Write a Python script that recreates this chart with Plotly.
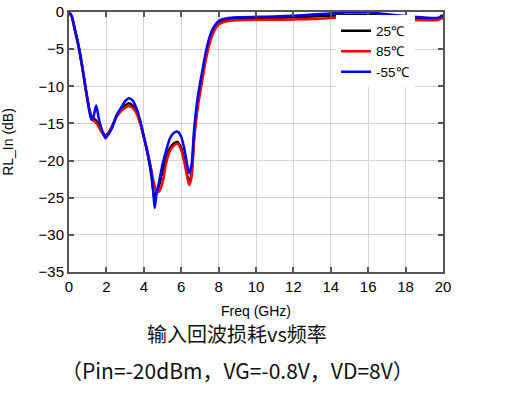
import plotly.graph_objects as go

freq = [0, 0.15, 0.3, 0.5, 0.7, 0.9, 1.1, 1.2, 1.3, 1.45, 1.6, 1.75, 1.95, 2.1, 2.3, 2.55, 2.8, 3.0, 3.2,
        3.4, 3.6, 3.8, 4.0, 4.2, 4.4, 4.5, 4.58, 4.68, 4.8, 5.0, 5.2, 5.4, 5.6, 5.8, 6.0, 6.2, 6.42, 6.55,
        6.7, 6.9, 7.1, 7.3, 7.5, 7.7, 8.0, 8.5, 9, 10, 11, 12, 13, 14, 15, 16, 17, 18, 19, 19.7, 20]

rl_25 = [0, -0.6, -2.2, -4.4, -7.2, -10.4, -13.2, -14.0, -14.3, -14.6, -15.3, -16.0, -16.6, -16.3, -15.4,
         -13.9, -13.0, -12.6, -12.3, -12.6, -13.4, -14.8, -16.8, -19.0, -22.0, -24.0, -25.3, -24.2, -23.5,
         -21.5, -19.6, -18.3, -17.7, -17.5, -18.3, -20.3, -23.0, -21.8, -16.5, -12.0, -9.0, -6.2, -4.0,
         -2.6, -1.5, -1.0, -0.9, -0.85, -0.8, -0.7, -0.6, -0.5, -0.4, -0.4, -0.55, -0.75, -0.9, -0.9, -0.6]

rl_85 = [0, -0.6, -2.3, -4.6, -7.4, -10.6, -13.4, -14.2, -14.6, -14.9, -15.5, -16.2, -16.8, -16.4, -15.5,
         -14.1, -13.3, -12.9, -12.7, -12.9, -13.6, -15.0, -16.8, -18.8, -21.2, -22.6, -23.4, -24.1, -24.2,
         -23.0, -20.3, -18.7, -18.0, -17.7, -18.6, -20.6, -23.3, -22.3, -17.0, -12.6, -9.6, -6.7, -4.4,
         -2.9, -1.7, -1.2, -1.1, -1.05, -1.05, -1.0, -0.95, -0.8, -0.7, -0.65, -0.8, -1.0, -1.1, -1.1, -0.8]

rl_m55 = [0, -0.6, -2.2, -4.4, -7.2, -10.4, -13.5, -14.5, -14.2, -12.6, -14.4, -15.8, -17.0, -16.5, -15.6,
          -13.9, -12.8, -12.0, -11.6, -11.9, -12.9, -14.5, -16.8, -19.0, -21.5, -24.0, -26.4, -24.5, -23.1,
          -20.5, -18.6, -17.0, -16.3, -16.1, -16.8, -18.8, -21.7, -20.6, -15.5, -11.2, -8.3, -5.6, -3.5,
          -2.2, -1.2, -0.8, -0.7, -0.65, -0.6, -0.5, -0.35, -0.2, -0.05, -0.05, -0.3, -0.55, -0.75, -0.8, -0.4]

series = [("25℃", rl_25, "#000000"), ("85℃", rl_85, "#ff0000"), ("-55℃", rl_m55, "#0000ff")]

x_ticks = [0, 2, 4, 6, 8, 10, 12, 14, 16, 18, 20]
y_ticks = [0, -5, -10, -15, -20, -25, -30, -35]

FONT = "Arial, Liberation Sans, sans-serif"

fig = go.Figure()
for name, vals, color in series:
    fig.add_trace(go.Scatter(x=freq, y=vals, mode="lines", name=name,
                             line=dict(color=color, width=2.5, shape="spline", smoothing=0.6)))

axis_common = dict(showline=True, linecolor="#555555", linewidth=2, mirror="ticks",
                   ticks="inside", ticklen=5, tickcolor="#555555", tickwidth=2,
                   showgrid=True, gridcolor="#d4d4d4", gridwidth=1, zeroline=False, automargin=False,
                   tickfont=dict(family=FONT, size=15, color="#000000"))

fig.update_xaxes(range=[0, 20], tickvals=x_ticks,
                 title=dict(text="Freq (GHz)", font=dict(family=FONT, size=14, color="#000"), standoff=12),
                 **axis_common)
fig.update_yaxes(range=[-35, 0], tickvals=y_ticks,
                 title=dict(text="RL_In (dB)", font=dict(family=FONT, size=14, color="#000"), standoff=23),
                 **axis_common)

fig.update_layout(
    width=512, height=396,
    margin=dict(l=69, r=69, t=12, b=124),
    paper_bgcolor="white", plot_bgcolor="white",
    showlegend=True,
    legend=dict(x=0.714, y=0.987, xanchor="left", yanchor="top", bgcolor="white", borderwidth=0,
                font=dict(family=FONT, size=13.5, color="#000"),
                itemwidth=30, tracegroupgap=0),
    annotations=[
        dict(text="输入回波损耗vs频率", xref="paper", yref="paper", x=0.45, y=-0.235,
             xanchor="center", yanchor="middle", showarrow=False,
             font=dict(family="Noto Sans CJK SC", size=20, color="#111")),
        dict(text="（Pin=-20dBm，VG=-0.8V，VD=8V）", xref="paper", yref="paper", x=0.45, y=-0.377,
             xanchor="center", yanchor="middle", showarrow=False,
             font=dict(family="Noto Sans CJK SC", size=21, color="#111")),
    ],
)

fig.write_html("out.html", config={"displayModeBar": False},
               post_script="document.body.style.margin='0px';")
